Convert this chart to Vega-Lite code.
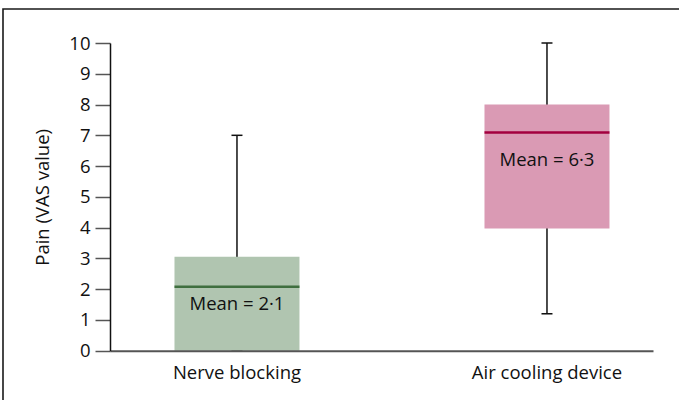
{
  "$schema": "https://vega.github.io/schema/vega-lite/v6.json",
  "autosize": "none",
  "width": 677,
  "height": 392,
  "padding": {"left": 3, "top": 9, "right": 0, "bottom": 0},
  "config": {
    "view": {"stroke": "#1a1a1a", "strokeWidth": 1.6},
    "font": "Open Sans",
    "text": {"font": "Open Sans"},
    "axisY": {"tickCount": 11, "labelOverlap": false}
  },
  "data": {
    "values": [
      {"group": "Nerve blocking", "min": 0, "q1": 0, "median": 2.08, "q3": 3.05, "max": 7, "mean": "Mean = 2·1"},
      {"group": "Air cooling device", "min": 1.2, "q1": 3.97, "median": 7.09, "q3": 8, "max": 10, "mean": "Mean = 6·3"}
    ]
  },
  "encoding": {
    "x": {
      "field": "group",
      "type": "nominal",
      "sort": ["Nerve blocking", "Air cooling device"],
      "scale": {"range": [107, 650], "paddingInner": 0.5968, "paddingOuter": 0.1742, "align": 0.597},
      "axis": {
        "title": null,
        "orient": "bottom",
        "offset": -50.3,
        "ticks": false,
        "labelAngle": 0,
        "labelFontSize": 18.5,
        "labelColor": "#111",
        "labelPadding": 12.5,
        "labelOverlap": false,
        "domainColor": "#555",
        "domainWidth": 2,
        "grid": false,
        "zindex": 1
      }
    }
  },
  "layer": [
    {
      "mark": {"type": "rule", "color": "#111", "strokeWidth": 1.5},
      "encoding": {
        "y": {
          "field": "min",
          "type": "quantitative",
          "scale": {"domain": [0, 10], "range": [341.7, 34], "nice": false, "zero": false},
          "axis": {
            "title": "Pain (VAS value)",
            "titleFontSize": 18.5,
            "titleFontWeight": "normal",
            "titleColor": "#111",
            "titlePadding": 16,
            "orient": "left",
            "offset": -107,
            "values": [0, 1, 2, 3, 4, 5, 6, 7, 8, 9, 10],
            "tickCount": 11,
            "labelOverlap": false,
            "tickSize": 15,
            "tickColor": "#555",
            "tickWidth": 1.5,
            "labelFontSize": 18.5,
            "labelColor": "#111",
            "labelPadding": 5,
            "domainColor": "#111",
            "domainWidth": 1.5,
            "grid": false,
            "zindex": 1
          }
        },
        "y2": {"field": "max"}
      }
    },
    {
      "mark": {"type": "tick", "color": "#111", "size": 11, "thickness": 1.5, "opacity": 1},
      "encoding": {"y": {"field": "max", "type": "quantitative"}}
    },
    {
      "mark": {"type": "tick", "color": "#111", "size": 11, "thickness": 1.5, "opacity": 1},
      "encoding": {"y": {"field": "min", "type": "quantitative"}}
    },
    {
      "mark": {"type": "bar", "opacity": 1},
      "encoding": {
        "y": {"field": "q1", "type": "quantitative"},
        "y2": {"field": "q3"},
        "color": {
          "field": "group",
          "type": "nominal",
          "scale": {"domain": ["Nerve blocking", "Air cooling device"], "range": ["#b0c5b0", "#da9ab4"]},
          "legend": null
        }
      }
    },
    {
      "mark": {"type": "tick", "size": 125, "thickness": 2.5, "opacity": 1},
      "encoding": {
        "y": {"field": "median", "type": "quantitative"},
        "fill": {
          "field": "group",
          "type": "nominal",
          "scale": {"domain": ["Nerve blocking", "Air cooling device"], "range": ["#3f6f3f", "#a3003f"]},
          "legend": null
        }
      }
    },
    {
      "transform": [{"filter": "datum.group === 'Nerve blocking'"}],
      "mark": {"type": "text", "fontSize": 18.5, "color": "#111", "baseline": "middle", "dy": 17.5},
      "encoding": {
        "y": {"field": "median", "type": "quantitative"},
        "text": {"field": "mean"}
      }
    },
    {
      "transform": [{"filter": "datum.group === 'Air cooling device'"}],
      "mark": {"type": "text", "fontSize": 18.5, "color": "#111", "baseline": "middle", "dy": 27},
      "encoding": {
        "y": {"field": "median", "type": "quantitative"},
        "text": {"field": "mean"}
      }
    }
  ]
}
